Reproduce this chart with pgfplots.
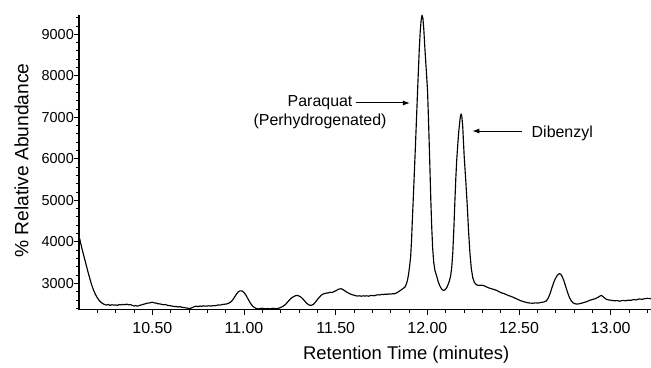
\documentclass[border=0pt]{standalone}
\usepackage{fontspec}
\setmainfont{Liberation Sans}
\usepackage{pgfplots}
\pgfplotsset{compat=1.18}
\usetikzlibrary{arrows.meta}

\begin{document}
\begin{tikzpicture}
\begin{axis}[
  at={(0,0)}, anchor=south west,
  scale only axis, width=572bp, height=294.5bp,
  xmin=10.10, xmax=13.22, ymin=2370, ymax=9465,
  axis x line*=bottom, axis y line*=left,
  xtick={10.5,11,11.5,12,12.5,13},
  minor xtick={10.2,10.3,10.4,10.6,10.7,10.8,10.9,11.1,11.2,11.3,11.4,11.6,11.7,11.8,11.9,12.1,12.2,12.3,12.4,12.6,12.7,12.8,12.9,13.1,13.2},
  ytick={3000,4000,5000,6000,7000,8000,9000},
  minor ytick={2400,2600,2800,3200,3400,3600,3800,4200,4400,4600,4800,5200,5400,5600,5800,6200,6400,6600,6800,7200,7400,7600,7800,8200,8400,8600,8800,9200,9400},
  tick align=outside,
  major tick length=5bp, minor tick length=3bp,
  tick style={black, line width=0.9bp},
  axis line style={line width=1.1bp},
  /pgf/number format/assume math mode=true,
  xticklabel style={/pgf/number format/fixed, /pgf/number format/fixed zerofill, /pgf/number format/precision=2, font=\fontsize{16}{19}\selectfont, yshift=-4bp},
  yticklabel style={/pgf/number format/1000 sep={}, inner xsep=0pt, xshift=0bp, font=\fontsize{14.5}{17}\selectfont},
  xlabel style={font=\fontsize{18.5}{22}\selectfont},
  ylabel style={font=\fontsize{19.3}{23}\selectfont},
  xlabel={Retention Time (minutes)},
  ylabel={\% Relative Abundance},
  xlabel style={at={(axis description cs:0.572,-0.1545)}, anchor=center},
  ylabel style={at={(axis description cs:-0.1005,0.5056)}, anchor=center},
]
\addplot[black, line width=1.15bp, line join=round] table {
10.100 4120
10.105 4050
10.110 3950
10.120 3770
10.130 3600
10.140 3430
10.150 3260
10.160 3100
10.170 2950
10.180 2830
10.190 2730
10.200 2650
10.210 2590
10.220 2545
10.230 2510
10.240 2490
10.250 2475
10.260 2490
10.270 2470
10.280 2485
10.290 2475
10.300 2480
10.310 2470
10.320 2490
10.330 2480
10.340 2495
10.350 2485
10.360 2500
10.370 2480
10.380 2490
10.390 2470
10.400 2455
10.410 2465
10.420 2450
10.430 2470
10.440 2480
10.450 2495
10.460 2505
10.470 2520
10.480 2525
10.490 2535
10.500 2545
10.510 2530
10.520 2525
10.530 2510
10.540 2505
10.550 2495
10.560 2485
10.570 2490
10.580 2475
10.590 2465
10.600 2460
10.610 2450
10.620 2440
10.630 2445
10.640 2430
10.650 2440
10.660 2425
10.670 2420
10.680 2410
10.690 2405
10.700 2395
10.710 2400
10.720 2420
10.730 2440
10.740 2450
10.750 2440
10.760 2455
10.770 2445
10.780 2460
10.790 2450
10.800 2455
10.810 2460
10.820 2450
10.830 2465
10.840 2460
10.850 2470
10.860 2480
10.870 2475
10.880 2490
10.890 2495
10.900 2500
10.910 2510
10.920 2530
10.930 2560
10.940 2610
10.950 2680
10.960 2750
10.970 2800
10.980 2820
10.990 2815
11.000 2780
11.010 2720
11.020 2640
11.030 2560
11.040 2490
11.050 2440
11.060 2410
11.070 2390
11.080 2385
11.090 2395
11.100 2400
11.110 2390
11.120 2385
11.130 2395
11.140 2385
11.150 2390
11.160 2400
11.170 2385
11.180 2395
11.190 2400
11.200 2420
11.210 2440
11.220 2470
11.230 2510
11.240 2560
11.250 2610
11.260 2650
11.270 2680
11.280 2700
11.290 2710
11.300 2695
11.310 2670
11.320 2630
11.330 2580
11.340 2530
11.350 2490
11.360 2470
11.370 2475
11.380 2500
11.390 2550
11.400 2610
11.410 2660
11.420 2710
11.430 2740
11.440 2755
11.450 2765
11.460 2770
11.470 2785
11.480 2780
11.490 2800
11.500 2820
11.510 2845
11.520 2865
11.530 2870
11.540 2850
11.550 2820
11.560 2790
11.570 2765
11.580 2745
11.590 2725
11.600 2715
11.610 2700
11.620 2695
11.630 2700
11.640 2690
11.650 2700
11.660 2695
11.670 2700
11.680 2690
11.690 2705
11.700 2710
11.710 2700
11.720 2715
11.730 2725
11.740 2720
11.750 2735
11.760 2730
11.770 2740
11.780 2735
11.790 2745
11.800 2740
11.810 2750
11.823 2750
11.840 2790
11.855 2835
11.866 2870
11.878 2910
11.886 2990
11.892 3080
11.898 3230
11.903 3400
11.909 3640
11.914 4050
11.918 4500
11.923 5004
11.929 5650
11.935 6300
11.941 6980
11.947 7661
11.952 8200
11.956 8634
11.961 9050
11.966 9330
11.971 9460
11.976 9380
11.981 9100
11.987 8634
11.994 8150
12.001 7661
12.007 6850
12.013 5950
12.019 5004
12.024 4350
12.029 3850
12.035 3500
12.042 3300
12.050 3190
12.058 3060
12.066 2960
12.074 2890
12.082 2845
12.090 2831
12.098 2850
12.106 2900
12.113 2970
12.120 3050
12.127 3180
12.133 3380
12.139 3750
12.145 4350
12.150 4950
12.155 5500
12.160 5950
12.165 6280
12.170 6580
12.175 6820
12.180 7010
12.184 7080
12.188 7030
12.193 6780
12.201 6060
12.210 5450
12.218 4850
12.225 4250
12.232 3750
12.240 3350
12.248 3130
12.257 3020
12.268 2965
12.280 2950
12.290 2955
12.305 2950
12.320 2920
12.335 2890
12.350 2870
12.365 2850
12.378 2830
12.390 2800
12.405 2770
12.420 2750
12.435 2720
12.450 2695
12.466 2670
12.480 2640
12.495 2610
12.510 2580
12.525 2560
12.540 2540
12.559 2525
12.575 2520
12.590 2530
12.605 2525
12.620 2540
12.635 2550
12.650 2580
12.660 2650
12.670 2760
12.680 2900
12.690 3030
12.700 3130
12.710 3200
12.720 3235
12.728 3220
12.736 3160
12.745 3060
12.755 2920
12.765 2780
12.775 2660
12.785 2580
12.795 2530
12.805 2510
12.815 2500
12.825 2505
12.840 2520
12.855 2540
12.870 2560
12.885 2590
12.900 2610
12.915 2630
12.930 2660
12.940 2690
12.950 2710
12.958 2680
12.966 2650
12.975 2620
12.990 2600
13.005 2590
13.020 2580
13.035 2585
13.050 2570
13.065 2590
13.080 2580
13.095 2595
13.110 2590
13.125 2610
13.140 2600
13.155 2625
13.170 2615
13.185 2630
13.200 2640
13.220 2630
};
\node[align=center, font=\fontsize{16}{19}\selectfont, inner sep=0pt] at (axis cs:11.415,7115) {Paraquat\\(Perhydrogenated)};
\draw[-{Latex[length=7bp,width=5bp]}, line width=1bp] (axis cs:11.61,7345) -- (axis cs:11.905,7345);
\node[font=\fontsize{16}{19}\selectfont, inner sep=0pt] at (axis cs:12.736,6622) {Dibenzyl};
\draw[-{Latex[length=7bp,width=5bp]}, line width=1bp] (axis cs:12.515,6670) -- (axis cs:12.245,6670);
\end{axis}
\pgfresetboundingbox
\path (-79bp,-58.5bp) rectangle (572bp,309.5bp);
\end{tikzpicture}
\end{document}
